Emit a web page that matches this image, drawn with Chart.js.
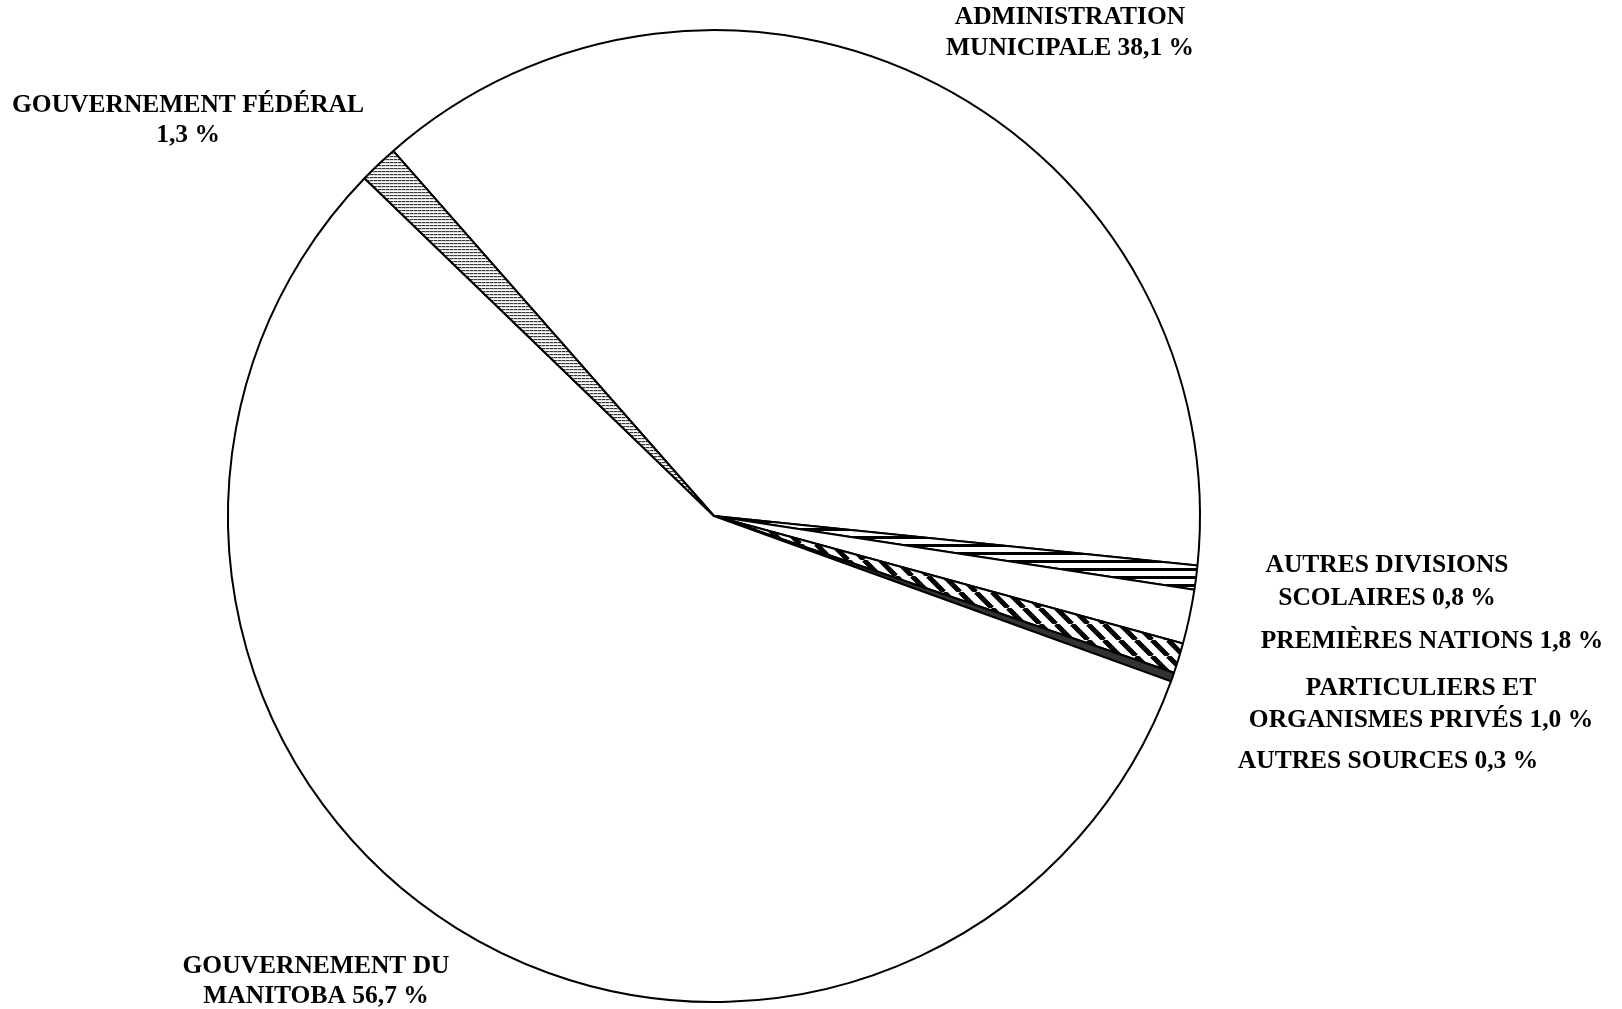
<!DOCTYPE html>
<html>
<head>
<meta charset="utf-8">
<script src="https://cdn.jsdelivr.net/npm/chart.js@4/dist/chart.umd.min.js"></script>
<style>
  html, body { margin: 0; padding: 0; background: #fff; }
  #wrap { width: 1622px; height: 1009px; }
</style>
</head>
<body>
<div id="wrap"><canvas id="myChart" width="1622" height="1009"></canvas></div>
<script>
// data (clockwise from the federal / municipal edge)
const categories = [
  "Administration municipale",
  "Autres divisions scolaires",
  "Premières Nations",
  "Particuliers et organismes privés",
  "Autres sources",
  "Gouvernement du Manitoba",
  "Gouvernement fédéral"
];
const shares = [38.1, 0.8, 1.8, 1.0, 0.3, 56.7, 1.3];
// label text, {v} is replaced by the share
const labelLines = [
  ["ADMINISTRATION", "MUNICIPALE {v}"],
  ["AUTRES DIVISIONS", "SCOLAIRES {v}"],
  ["PREMIÈRES NATIONS {v}"],
  ["PARTICULIERS ET", "ORGANISMES PRIVÉS {v}"],
  ["AUTRES SOURCES {v}"],
  ["GOUVERNEMENT DU", "MANITOBA {v}"],
  ["GOUVERNEMENT FÉDÉRAL", "{v}"]
];

// where each label sits (centre x, baseline of each line)
const labelPos = [
  { x: 1070, y: [24, 55] },
  { x: 1387, y: [572, 605] },
  { x: 1432, y: [648] },
  { x: 1421, y: [695, 727] },
  { x: 1388, y: [768] },
  { x: 316, y: [973, 1003] },
  { x: 188, y: [112, 142] }
];

function makePattern(w, h, draw) {
  const c = document.createElement("canvas");
  c.width = w;
  c.height = h;
  const g = c.getContext("2d");
  g.fillStyle = "#fff";
  g.fillRect(0, 0, w, h);
  draw(g);
  return document.getElementById("myChart").getContext("2d").createPattern(c, "repeat");
}

// horizontal stripes
const hStripes = makePattern(8, 8, (g) => {
  g.fillStyle = "#000";
  g.fillRect(0, 0, 8, 3);
});
// diagonal stripes going down to the right
const dStripes = makePattern(16, 16, (g) => {
  g.strokeStyle = "#000";
  g.lineWidth = 5;
  g.beginPath();
  for (let k = -16; k <= 32; k += 16) {
    g.moveTo(k, 0);
    g.lineTo(k + 16, 16);
  }
  g.stroke();
});
// fine grey lines
const fineStripes = makePattern(4, 3, (g) => {
  g.fillStyle = "#333";
  g.fillRect(0, 0, 4, 1);
  g.fillStyle = "#999";
  g.fillRect(1, 0, 1, 1);
  g.fillStyle = "#ddd";
  g.fillRect(0, 1, 4, 1);
});

const fills = ["#ffffff", hStripes, "#ffffff", dStripes, "#333333", "#ffffff", fineStripes];

function fmt(v) {
  return v.toFixed(1).replace(".", ",") + " %";
}

const labelPlugin = {
  id: "sliceLabels",
  afterDraw(chart) {
    const ctx = chart.ctx;
    ctx.save();
    ctx.fillStyle = "#000";
    ctx.font = "bold 25.5px 'Liberation Serif', 'Times New Roman', serif";
    ctx.textAlign = "center";
    ctx.textBaseline = "alphabetic";
    labelLines.forEach((lines, i) => {
      lines.forEach((line, j) => {
        ctx.fillText(line.replace("{v}", fmt(shares[i])), labelPos[i].x, labelPos[i].y[j]);
      });
    });
    ctx.restore();
  }
};

const ctx = document.getElementById("myChart").getContext("2d");
const myChart = new Chart(ctx, {
  type: "pie",
  data: {
    labels: categories,
    datasets: [
      {
        data: shares,
        backgroundColor: fills,
        borderColor: "#000",
        borderWidth: 2,
      }
    ],
  },
  options: {
    responsive: false,
    animation: false,
    rotation: -41.3,
    radius: 486,
    layout: { padding: { left: 0, right: 194, top: 29, bottom: 6 } },
    plugins: {
      legend: { display: false },
      tooltip: { enabled: false },
    },
  },
  plugins: [labelPlugin],
});
</script>
</body>
</html>
